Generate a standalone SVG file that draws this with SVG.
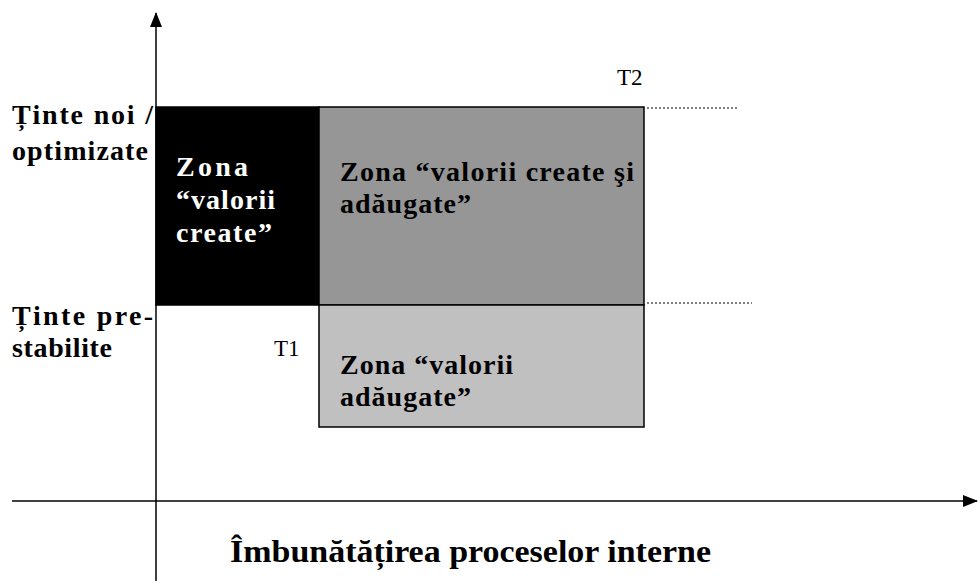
<svg xmlns="http://www.w3.org/2000/svg" width="978" height="581" viewBox="0 0 978 581">
<style>
.lbl{font-family:"Liberation Serif","Times New Roman",serif;font-weight:bold;font-size:28px;fill:#000}
.wl{font-family:"Liberation Serif","Times New Roman",serif;font-weight:bold;font-size:28px;fill:#fff}
.xl{font-family:"Liberation Serif","Times New Roman",serif;font-weight:bold;font-size:31px;fill:#000}
.t{font-family:"Liberation Serif","Times New Roman",serif;font-size:23px;fill:#000}
.box{stroke:#000;stroke-width:1.5}
.dot{stroke:#000;stroke-width:1.2;stroke-dasharray:2 2;fill:none}
.ax{stroke:#000;stroke-width:1.5;fill:none}
</style>
<defs>
<marker id="arr" markerWidth="15" markerHeight="12" refX="14" refY="6" orient="auto" markerUnits="userSpaceOnUse" viewBox="0 0 15 12">
<path d="M0,0 L15,6 L0,12 Z" fill="#000"/>
</marker>
</defs>
<g id="connectors">
<line class="ax" x1="156" y1="581" x2="156" y2="13" marker-end="url(#arr)"/>
<line class="ax" x1="12" y1="501" x2="977" y2="501" marker-end="url(#arr)"/>
<line class="dot" x1="647" y1="108" x2="737" y2="108"/>
<line class="dot" x1="647" y1="303" x2="752" y2="303"/>
</g>
<g id="zone-created">
<rect class="box" x="156" y="107" width="163" height="198" fill="#000"/>
<text class="wl" x="176" y="176" textLength="72">Zona</text>
<text class="wl" x="176" y="209" textLength="99">“valorii</text>
<text class="wl" x="176" y="242" textLength="96">create”</text>
</g>
<g id="zone-created-added">
<rect class="box" x="319" y="107" width="325" height="198" fill="#969696"/>
<text class="lbl" x="340" y="181" textLength="294">Zona “valorii create şi</text>
<text class="lbl" x="340" y="213" textLength="131">adăugate”</text>
</g>
<g id="zone-added">
<rect class="box" x="319" y="305" width="325" height="122" fill="#c0c0c0"/>
<text class="lbl" x="340" y="374" textLength="173">Zona “valorii</text>
<text class="lbl" x="340" y="406" textLength="131">adăugate”</text>
</g>
<g id="y-labels">
<text class="lbl" x="12" y="124" textLength="141">Ținte noi /</text>
<text class="lbl" x="12" y="160" textLength="136">optimizate</text>
<text class="lbl" x="12" y="325" textLength="141">Ținte pre-</text>
<text class="lbl" x="12" y="357" textLength="100">stabilite</text>
</g>
<g id="t-labels">
<text class="t" x="617" y="85">T2</text>
<text class="t" x="274" y="356">T1</text>
</g>
<g id="x-label">
<text class="xl" x="230" y="562" textLength="481" lengthAdjust="spacingAndGlyphs">Îmbunătățirea proceselor interne</text>
</g>
</svg>
